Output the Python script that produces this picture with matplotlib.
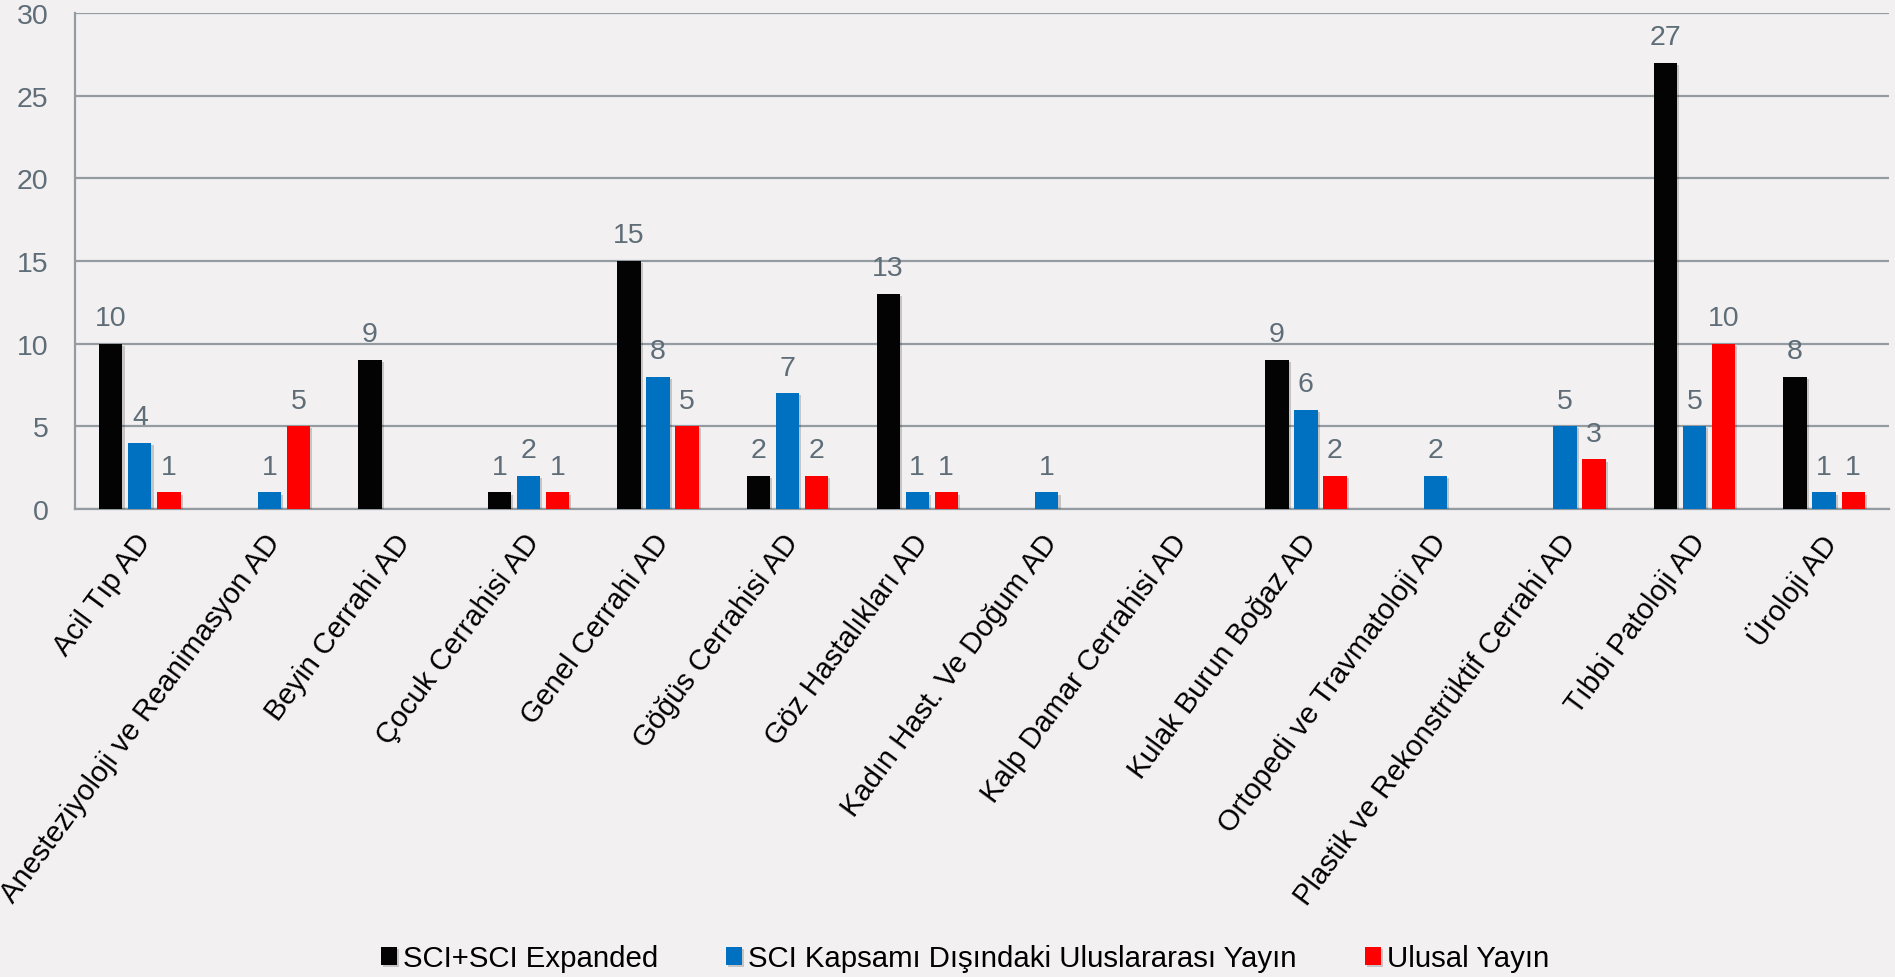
import numpy as np
import matplotlib
matplotlib.use("Agg")
import matplotlib.pyplot as plt
import matplotlib.patheffects as pe
from matplotlib.transforms import ScaledTranslation

plt.rcParams['font.family'] = ['Liberation Sans', 'DejaVu Sans']

# data (empty cells in the source chart -> nan)
departments = [
    "Acil Tıp AD",
    "Anesteziyoloji ve Reanimasyon AD",
    "Beyin Cerrahi AD",
    "Çocuk Cerrahisi AD",
    "Genel Cerrahi AD",
    "Göğüs Cerrahisi AD",
    "Göz Hastalıkları AD",
    "Kadın Hast. Ve Doğum AD",
    "Kalp Damar Cerrahisi AD",
    "Kulak Burun Boğaz AD",
    "Ortopedi ve Travmatoloji AD",
    "Plastik ve Rekonstrüktif Cerrahi AD",
    "Tıbbi Patoloji AD",
    "Üroloji AD",
]
nan = np.nan
sci_expanded = [10, nan, 9, 1, 15, 2, 13, nan, nan, 9, nan, nan, 27, 8]
sci_disinda = [4, 1, nan, 2, 8, 7, 1, 1, nan, 6, 2, 5, 5, 1]
ulusal = [1, 5, nan, 1, 5, 2, 1, nan, nan, 2, nan, 3, 10, 1]

series_names = ["SCI+SCI Expanded",
                "SCI Kapsamı Dışındaki Uluslararası Yayın",
                "Ulusal Yayın"]
colors = ["#030303", "#0070C0", "#FF0000"]

bg = "#F2F0F1"
grid_col = "#949CA1"
num_col = "#5E6D77"

fig = plt.figure(figsize=(18.95, 9.78), dpi=100, facecolor=bg)
ax = fig.add_axes([0.0396, 0.4785, 0.9572, 0.5072])
ax.set_facecolor(bg)

x = np.arange(len(departments))
width = 0.18
step = 0.224
shadow = [pe.SimplePatchShadow(offset=(1.5, -1.5), shadow_rgbFace="#000000", alpha=0.18), pe.Normal()]

for i, (vals, name, col) in enumerate(zip([sci_expanded, sci_disinda, ulusal], series_names, colors)):
    vals = np.array(vals, dtype=float)
    bars = ax.bar(x + (i - 1) * step, vals, width, color=col, label=name, zorder=3)
    for b in bars:
        b.set_path_effects(shadow)
    for xi, v in zip(x + (i - 1) * step, vals):
        if not np.isnan(v):
            ax.annotate(f"{int(v)}", (xi, v), xytext=(0, 13.5), textcoords="offset points",
                        ha="center", va="baseline", fontsize=20.5, color=num_col, zorder=4)

ax.set_xlim(-0.5, len(departments) - 0.5)
ax.set_ylim(0, 30)
ax.set_yticks(np.arange(0, 31, 5))
ax.yaxis.grid(True, color=grid_col, linewidth=1.6, zorder=0)
ax.set_axisbelow(True)
for s in ["top", "right"]:
    ax.spines[s].set_visible(False)
for s in ["left", "bottom"]:
    ax.spines[s].set_color(grid_col)
    ax.spines[s].set_linewidth(1.6)
ax.tick_params(axis="y", length=0, pad=19, labelsize=20.5, labelcolor=num_col)
ax.tick_params(axis="x", length=0, pad=14)

ax.set_xticks(x)
ax.set_xticklabels(departments, rotation=53.5, ha="right", va="top",
                   rotation_mode="anchor", fontsize=21, color="black")
shift = ScaledTranslation(-6 / 100, 0, fig.dpi_scale_trans)
for lab in ax.get_xticklabels():
    lab.set_transform(lab.get_transform() + shift)

fig.legend(loc="center", bbox_to_anchor=(965 / 1895, 0.019), ncol=3, frameon=False,
           fontsize=21.2, handlelength=0.55, handleheight=0.55, handletextpad=0.2,
           columnspacing=2.3)

fig.savefig("out.png", dpi=100, facecolor=bg)
